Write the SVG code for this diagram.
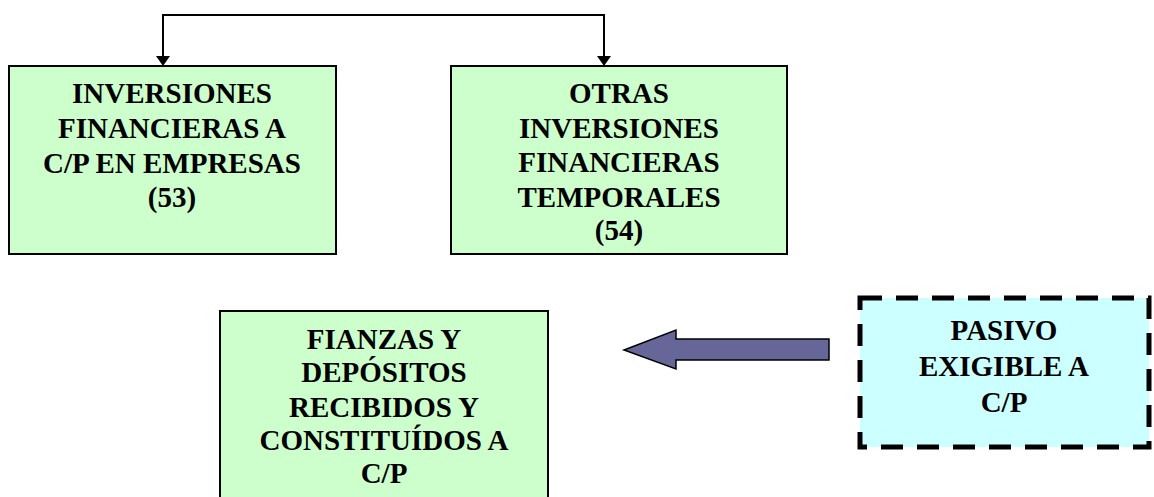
<svg xmlns="http://www.w3.org/2000/svg" width="1154" height="497" viewBox="0 0 1154 497">
<defs>
<style>
.box{fill:#CCFFCC;stroke:#000;stroke-width:2}
.dash{fill:#CCFFFF;stroke:#000;stroke-width:5;stroke-dasharray:22 14}
.t{font-family:"Liberation Serif","Times New Roman",serif;font-weight:bold;font-size:29px;fill:#000;text-anchor:middle}
.conn{fill:none;stroke:#000;stroke-width:2}
</style>
</defs>
<rect width="1154" height="497" fill="#fff"/>
<g id="connectors">
<path class="conn" d="M163,56 L163,15 L604,15 L604,56"/>
<path d="M156,56 L170,56 L163,66 Z" fill="#000"/>
<path d="M597,56 L611,56 L604,66 Z" fill="#000"/>
<path d="M624,350 L676,330 L676,339 L829,339 L829,360 L676,360 L676,369 Z" fill="#666699" stroke="#000" stroke-width="1.5"/>
</g>
<g id="n1">
<rect class="box" x="9" y="66" width="327" height="188"/>
<text class="t" x="172" y="103">INVERSIONES</text>
<text class="t" x="172" y="138">FINANCIERAS A</text>
<text class="t" x="172" y="173">C/P EN EMPRESAS</text>
<text class="t" x="172" y="207">(53)</text>
</g>
<g id="n2">
<rect class="box" x="451" y="66" width="336" height="188"/>
<text class="t" x="619" y="103">OTRAS</text>
<text class="t" x="619" y="138">INVERSIONES</text>
<text class="t" x="619" y="172">FINANCIERAS</text>
<text class="t" x="619" y="207">TEMPORALES</text>
<text class="t" x="619" y="240">(54)</text>
</g>
<g id="n3">
<rect class="box" x="220" y="311" width="328" height="200"/>
<text class="t" x="384" y="349">FIANZAS Y</text>
<text class="t" x="384" y="382">DEPÓSITOS</text>
<text class="t" x="384" y="417">RECIBIDOS Y</text>
<text class="t" x="384" y="450">CONSTITUÍDOS A</text>
<text class="t" x="384" y="483">C/P</text>
</g>
<g id="n4">
<rect class="dash" x="860" y="298" width="289" height="149"/>
<text class="t" x="1004" y="340">PASIVO</text>
<text class="t" x="1004" y="376">EXIGIBLE A</text>
<text class="t" x="1004" y="412">C/P</text>
</g>
</svg>
